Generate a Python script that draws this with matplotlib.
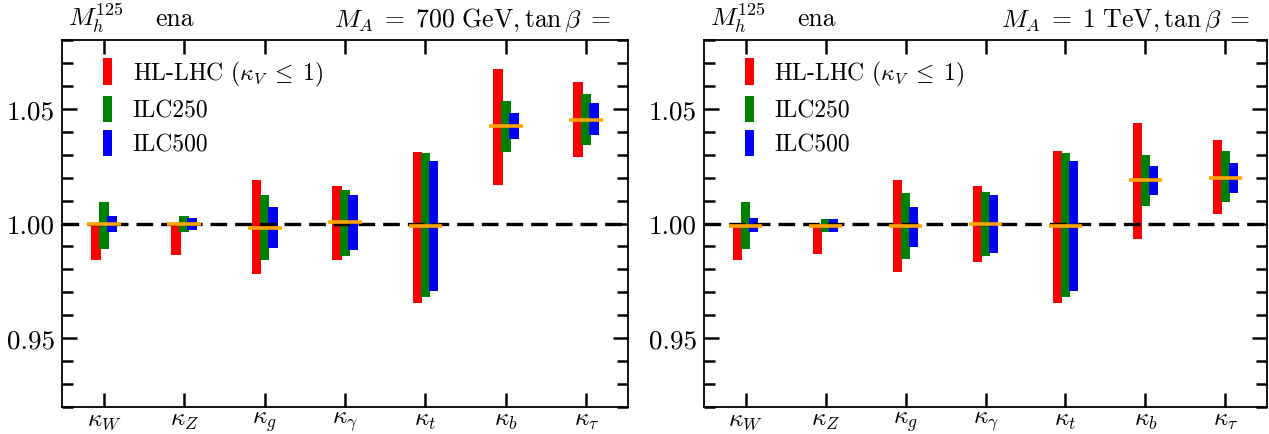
import matplotlib
matplotlib.use("Agg")
import matplotlib.pyplot as plt
from matplotlib.patches import Patch
from matplotlib.ticker import FixedLocator, MultipleLocator, FormatStrFormatter
import numpy as np

plt.rcParams["font.family"] = ["cmr10", "DejaVu Serif"]
plt.rcParams["mathtext.fontset"] = "cm"
plt.rcParams["axes.formatter.use_mathtext"] = True

# Higgs coupling modifiers
couplings = [r"$\kappa_W$", r"$\kappa_Z$", r"$\kappa_g$", r"$\kappa_\gamma$",
             r"$\kappa_t$", r"$\kappa_b$", r"$\kappa_\tau$"]
series_names = [r"HL-LHC ($\kappa_V\;\leq\;1$)", "ILC250", "ILC500"]
series_colors = ["#ff0000", "#008000", "#0000ff"]

# M_A = 700 GeV
central_700 = [0.9998, 0.9998, 0.9979, 1.0007, 0.9990, 1.0425, 1.0451]
hllhc_lo_700 = [0.9841, 0.9863, 0.9779, 0.9841, 0.9655, 1.0167, 1.0292]
hllhc_hi_700 = [1.0000, 1.0000, 1.0189, 1.0164, 1.0313, 1.0674, 1.0616]
ilc250_lo_700 = [0.9891, 0.9965, 0.9840, 0.9857, 0.9680, 1.0310, 1.0342]
ilc250_hi_700 = [1.0096, 1.0031, 1.0124, 1.0148, 1.0306, 1.0533, 1.0566]
ilc500_lo_700 = [0.9965, 0.9972, 0.9895, 0.9883, 0.9706, 1.0368, 1.0384]
ilc500_hi_700 = [1.0031, 1.0022, 1.0073, 1.0124, 1.0273, 1.0483, 1.0524]

# M_A = 1 TeV
central_1000 = [0.9990, 0.9990, 0.9990, 1.0000, 0.9990, 1.0190, 1.0199]
hllhc_lo_1000 = [0.9841, 0.9866, 0.9790, 0.9832, 0.9655, 0.9931, 1.0042]
hllhc_hi_1000 = [1.0000, 1.0000, 1.0189, 1.0164, 1.0314, 1.0439, 1.0365]
ilc250_lo_1000 = [0.9891, 0.9965, 0.9847, 0.9857, 0.9680, 1.0077, 1.0092]
ilc250_hi_1000 = [1.0096, 1.0019, 1.0131, 1.0138, 1.0306, 1.0298, 1.0314]
ilc500_lo_1000 = [0.9965, 0.9965, 0.9898, 0.9873, 0.9706, 1.0125, 1.0132]
ilc500_hi_1000 = [1.0022, 1.0019, 1.0073, 1.0124, 1.0273, 1.0249, 1.0265]

panels = [
    dict(title=r"$M_A\;=\;700\ \mathrm{GeV}, \tan\beta\;=$",
         central=central_700,
         ranges=[(hllhc_lo_700, hllhc_hi_700),
                 (ilc250_lo_700, ilc250_hi_700),
                 (ilc500_lo_700, ilc500_hi_700)]),
    dict(title=r"$M_A\;=\;1\ \mathrm{TeV}, \tan\beta\;=$",
         central=central_1000,
         ranges=[(hllhc_lo_1000, hllhc_hi_1000),
                 (ilc250_lo_1000, ilc250_hi_1000),
                 (ilc500_lo_1000, ilc500_hi_1000)]),
]

fig = plt.figure(figsize=(12.69, 4.35), dpi=100)
axes_rects = [[0.0489, 0.062, 0.4460, 0.8437],
              [0.5548, 0.062, 0.4436, 0.8437]]

offsets = [-0.1, 0.0, 0.1]
bar_w = 0.12
x = np.arange(len(couplings))

for rect, panel in zip(axes_rects, panels):
    ax = fig.add_axes(rect)
    for (lo, hi), off, col in zip(panel["ranges"], offsets, series_colors):
        lo = np.array(lo)
        hi = np.array(hi)
        ax.bar(x + off, hi - lo, bar_w, bottom=lo, color=col,
               linewidth=0, zorder=2)
    ax.axhline(1.0, color="black", lw=2.4, dashes=(5.0, 2.4), zorder=3)
    ax.hlines(panel["central"], x - 0.21, x + 0.21, color="#ffa500",
              lw=2.6, zorder=4)

    ax.set_xlim(-0.52, 6.52)
    ax.set_ylim(0.92, 1.08)
    ax.xaxis.set_major_locator(FixedLocator(x))
    ax.set_xticklabels(couplings, fontsize=18)
    ax.yaxis.set_major_locator(FixedLocator([0.95, 1.00, 1.05]))
    ax.yaxis.set_major_formatter(FormatStrFormatter("%.2f"))
    ax.yaxis.set_minor_locator(MultipleLocator(0.01))
    ax.tick_params(axis="both", which="both", direction="in",
                   top=True, right=True, width=1.8)
    ax.tick_params(axis="y", which="major", length=11, labelsize=19.5, pad=5)
    ax.tick_params(axis="y", which="minor", length=8)
    ax.tick_params(axis="x", which="major", length=10, pad=1)
    for sp in ax.spines.values():
        sp.set_linewidth(1.3)

    ax.text(0.01, 1.04, r"$M_h^{125}$", transform=ax.transAxes,
            fontsize=18.5, va="baseline", ha="left")
    ax.text(0.165, 1.04, "ena", transform=ax.transAxes,
            fontsize=18.5, va="baseline", ha="left")
    ax.text(0.97, 1.04, panel["title"], transform=ax.transAxes,
            fontsize=18.5, va="baseline", ha="right")

    handles = [Patch(facecolor=c, edgecolor="none") for c in series_colors]
    ax.legend(handles, series_names, loc="upper left",
              bbox_to_anchor=(0.072, 0.95), frameon=False, fontsize=17,
              handlelength=0.39, handleheight=1.35, handletextpad=0.87,
              labelspacing=0.32, borderpad=0, borderaxespad=0)

fig.savefig("out.png", dpi=100)
